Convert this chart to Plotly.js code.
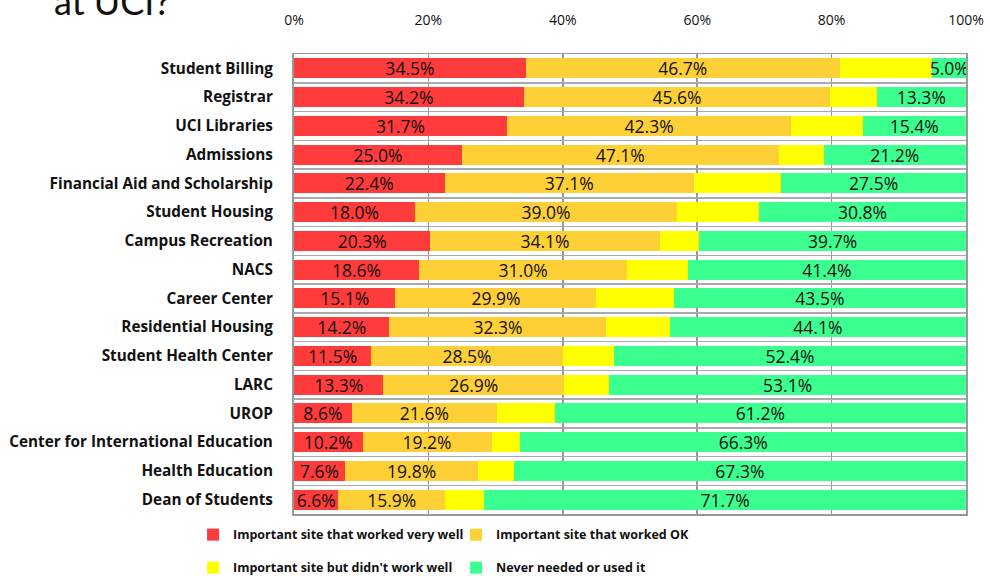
<!DOCTYPE html>
<html>
<head>
<meta charset="utf-8">
<script src="https://cdn.plot.ly/plotly-3.0.1.min.js"></script>
<style>html,body{margin:0;padding:0;background:#fff;}#chart{width:990px;height:576px;}</style>
</head>
<body>
<div id="chart"></div>
<script>
const categories = ["Student Billing","Registrar","UCI Libraries","Admissions","Financial Aid and Scholarship","Student Housing","Campus Recreation","NACS","Career Center","Residential Housing","Student Health Center","LARC","UROP","Center for International Education","Health Education","Dean of Students"];
const veryWell = [34.5,34.2,31.7,25.0,22.4,18.0,20.3,18.6,15.1,14.2,11.5,13.3,8.6,10.2,7.6,6.6];
const workedOK = [46.7,45.6,42.3,47.1,37.1,39.0,34.1,31.0,29.9,32.3,28.5,26.9,21.6,19.2,19.8,15.9];
const didntWork = [13.8,6.9,10.6,6.7,13.0,12.2,5.9,9.0,11.5,9.4,7.6,6.7,8.6,4.3,5.3,5.8];
const neverUsed = [5.0,13.3,15.4,21.2,27.5,30.8,39.7,41.4,43.5,44.1,52.4,53.1,61.2,66.3,67.3,71.7];
const seriesNames = ["Important site that worked very well","Important site that worked OK","Important site but didn't work well","Never needed or used it"];
const tickVals = [0,20,40,60,80,100];
const tickText = ["0%","20%","40%","60%","80%","100%"];
const colors = ["#FF3B3B","#FFCF36","#FFFF00","#3BFF8F"];

const seriesVals = [veryWell, workedOK, didntWork, neverUsed];
const showLabels = [true, true, false, true];
const legendOf = ['legend', 'legend', 'legend2', 'legend2'];

const FONT = '"Open Sans", sans-serif';

const traces = seriesVals.map((vals, i) => ({
  type: 'bar',
  orientation: 'h',
  name: seriesNames[i],
  legend: legendOf[i],
  x: vals,
  y: categories,
  marker: {color: colors[i], line: {width: 0}},
  text: showLabels[i] ? vals.map(v => v.toFixed(1) + '%') : undefined,
  textposition: showLabels[i] ? 'inside' : 'none',
  insidetextanchor: 'middle',
  constraintext: 'none',
  textfont: {family: FONT, size: 17.5, color: '#111'},
  hoverinfo: 'x+y+name'
}));

const legendCommon = {
  orientation: 'h', xref: 'container', yref: 'container',
  xanchor: 'left', yanchor: 'middle',
  entrywidth: 218, traceorder: 'normal',
  font: {family: FONT, size: 12.5, weight: 'bold', color: '#111'}
};

const layout = {
  width: 990, height: 576,
  margin: {l: 294, r: 24, t: 54, b: 62},
  paper_bgcolor: '#fff', plot_bgcolor: '#fff',
  barmode: 'stack',
  bargap: 0.3,
  showlegend: true,
  font: {family: FONT, color: '#111'},
  xaxis: {
    side: 'top', range: [0, 100], tickvals: tickVals, ticktext: tickText,
    showgrid: true, gridcolor: '#999', gridwidth: 1.5,
    zeroline: false, showline: true, linecolor: '#999', linewidth: 1.5, mirror: true,
    ticks: 'outside', ticklen: 22, tickcolor: 'rgba(0,0,0,0)',
    tickfont: {family: FONT, size: 14, color: '#111'}, fixedrange: true
  },
  yaxis: {
    type: 'category', autorange: 'reversed',
    tickson: 'boundaries', showgrid: true, gridcolor: '#aaa', gridwidth: 1.5,
    showline: true, linecolor: '#999', linewidth: 2, mirror: true,
    ticks: '', ticklabelstandoff: 16,
    tickfont: {family: FONT, size: 15.3, color: '#111', weight: 'bold'}, fixedrange: true
  },
  legend: Object.assign({}, legendCommon, {x: 0.195, y: 0.0712}),
  legend2: Object.assign({}, legendCommon, {x: 0.195, y: 0.0139}),
  annotations: [{
    text: 'at UCI?', xref: 'paper', yref: 'paper', x: -0.36, y: 1.115,
    xanchor: 'left', yanchor: 'middle', showarrow: false,
    font: {family: 'Lato, sans-serif', size: 36, color: '#111'}
  }]
};

Plotly.newPlot('chart', traces, layout, {displayModeBar: false, staticPlot: true});
</script>
</body>
</html>
